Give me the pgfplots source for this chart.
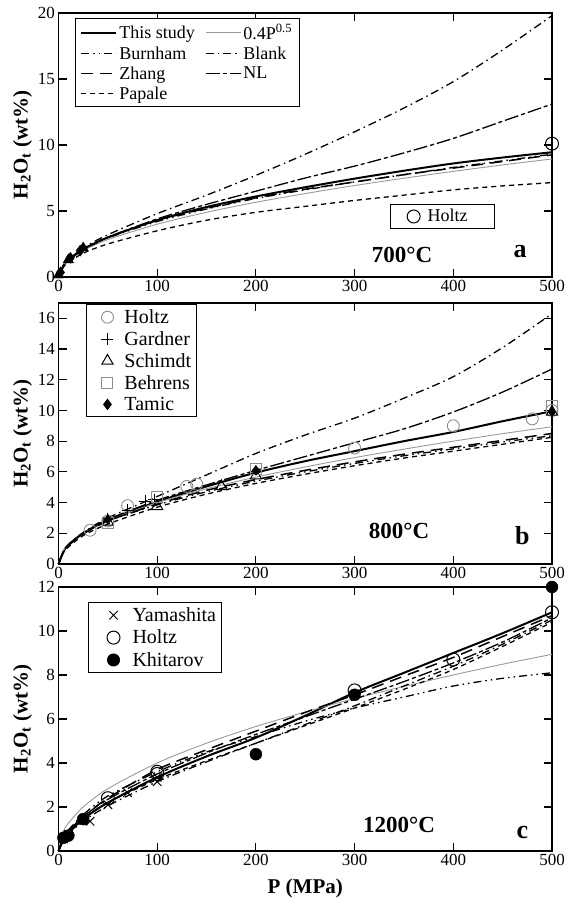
\documentclass[border=0pt]{standalone}
\usepackage{fontspec}
\setmainfont{Liberation Serif}
\usepackage{pgfplots}
\usepackage{pgfplotstable}
\pgfplotsset{compat=1.18}

\pgfplotstableread{
P    this  sq    burn  blank zhang nl    pap
0    0     0     0     0     0     0     0
5    0.85  0.89  0.85  0.9   0.85  0.85  0.75
10   1.3   1.26  1.25  1.3   1.25  1.3   1.1
25   2.1   2.0   2.05  2.2   2.1   2.1   1.8
50   3.0   2.83  2.95  3.2   3.0   3.0   2.5
100  4.3   4.0   4.2   4.8   4.3   4.4   3.5
150  5.3   4.9   5.15  6.2   5.2   5.5   4.3
200  6.1   5.66  5.95  7.7   6.0   6.5   4.9
250  6.8   6.32  6.6   9.3   6.65  7.5   5.35
300  7.45  6.93  7.2   11.0  7.2   8.4   5.8
350  8.05  7.48  7.75  12.8  7.75  9.4   6.2
400  8.6   8.0   8.3   14.8  8.25  10.5  6.6
450  9.05  8.49  8.8   17.2  8.75  11.8  6.9
500  9.45  8.94  9.3   19.8  9.25  13.1  7.15
}\tabA

\pgfplotstableread{
P    this  sq    burn  blank zhang nl    pap
0    0     0     0     0     0     0     0
5    0.8   0.89  0.8   0.8   0.8   0.8   0.75
10   1.25  1.26  1.2   1.25  1.2   1.25  1.1
25   2.0   2.0   1.95  2.05  1.95  2.0   1.85
50   2.85  2.83  2.8   3.0   2.8   2.9   2.6
100  4.05  4.0   3.85  4.4   3.9   4.15  3.7
150  5.05  4.9   4.7   5.8   4.8   5.15  4.55
200  5.95  5.66  5.4   7.2   5.5   6.1   5.25
250  6.7   6.32  6.0   8.4   6.1   7.0   5.85
300  7.35  6.93  6.55  9.5   6.65  7.9   6.4
350  8.0   7.48  7.05  10.8  7.15  8.8   6.9
400  8.6   8.0   7.5   12.2  7.6   9.9   7.35
450  9.3   8.49  7.95  14.1  8.05  11.2  7.8
500  9.95  8.94  8.35  16.3  8.5   12.7  8.25
}\tabB

\pgfplotstableread{
P    this  sq    burn  blank zhang nl    pap
0    0     0     0     0     0     0     0
5    0.5   0.89  0.65  0.5   0.6   0.6   0.55
10   0.8   1.26  0.95  0.75  0.9   0.9   0.8
25   1.45  2.0   1.65  1.35  1.55  1.55  1.45
50   2.2   2.83  2.5   2.05  2.4   2.35  2.2
100  3.35  4.0   3.6   3.15  3.7   3.5   3.25
150  4.3   4.9   4.5   4.05  4.6   4.45  4.1
200  5.15  5.66  5.2   4.9   5.45  5.3   4.9
250  6.15  6.32  5.9   5.75  6.3   6.1   5.7
300  7.2   6.93  6.5   6.6   7.1   6.9   6.5
350  8.1   7.48  7.0   7.5   7.95  7.7   7.35
400  9.0   8.0   7.5   8.4   8.8   8.55  8.25
450  9.9   8.49  7.85  9.4   9.75  9.5   9.3
500  10.85 8.94  8.1   10.5  10.7  10.6  10.4
}\tabC

\newcommand{\lfont}{\fontsize{18}{20}\selectfont}
\newcommand{\mfont}{\fontsize{20}{22}\selectfont}

\pgfplotsset{
  panel/.style={
    scale only axis, width=493.5pt, xmin=0, xmax=500,
    xtick={0,100,200,300,400,500},
    tick align=inside, major tick length=8pt,
    axis line style={line width=1.1pt},
    every tick/.append style={line width=1.1pt, black},
    tick label style={font=\fontsize{17}{19}\selectfont},
    /pgf/number format/assume math mode=true,
    clip=false, anchor=south west,
    ylabel={\textbf{H\textsubscript{2}O\textsubscript{t} (wt\%)}},
    ylabel style={font=\fontsize{21}{24}\selectfont, at={(axis description cs:-0.073,0.5)}, anchor=center},
    legend cell align=left,
  },
  cthis/.style={black, line width=2pt, smooth},
  csq/.style={black!40, line width=0.9pt, smooth},
  cburn/.style={black, line width=1.3pt, smooth, dash pattern=on 8pt off 4pt on 1.5pt off 4pt on 1.5pt off 4pt},
  cblank/.style={black, line width=1.3pt, smooth, dash pattern=on 8pt off 4pt on 1.5pt off 4pt},
  czhang/.style={black, line width=1.5pt, smooth, dash pattern=on 12pt off 7pt},
  cnl/.style={black, line width=1.3pt, smooth, dash pattern=on 14pt off 3pt on 4pt off 3pt},
  cpap/.style={black, line width=1.3pt, smooth, dash pattern=on 5pt off 4pt},
  mkimgb/.style={legend image code/.code={\path[draw=none,fill=none] (-18pt,0pt) -- (15pt,0pt); \draw[##1] plot coordinates {(0pt,0pt)};}},
  mkimgc/.style={legend image code/.code={\path[draw=none,fill=none] (-22pt,0pt) -- (17pt,0pt); \draw[##1] plot coordinates {(0pt,0pt)};}},
  mkimga/.style={legend image code/.code={\path[draw=none,fill=none] (-20pt,0pt) -- (12pt,0pt); \draw[##1] plot coordinates {(0pt,0pt)};}},
}

\begin{document}
\begin{tikzpicture}
\path[use as bounding box] (0,0) rectangle (568pt,909pt);

% ---------------- Panel a ----------------
\begin{axis}[panel, height=264pt, at={(58.5pt,632pt)},
  ymin=0, ymax=20, ytick={0,5,10,15,20},
  legend columns=2,
  legend image code/.code={\draw[#1] (0pt,0pt) -- (35pt,0pt);},
  legend style={at={(0.0334,0.981)}, anchor=north west, draw=black, line width=1pt,
    font=\lfont, row sep=2pt, inner xsep=5pt, inner ysep=4pt,
    /tikz/every even column/.append style={column sep=8pt}},
]
\addplot[cthis] table[x=P,y=this] {\tabA}; \addlegendentry{This study}
\addplot[csq] table[x=P,y=sq] {\tabA}; \addlegendentry{0.4P\textsuperscript{0.5}}
\addplot[cburn] table[x=P,y=burn] {\tabA}; \addlegendentry{Burnham}
\addplot[cblank] table[x=P,y=blank] {\tabA}; \addlegendentry{Blank}
\addplot[czhang] table[x=P,y=zhang] {\tabA}; \addlegendentry{Zhang}
\addplot[cnl] table[x=P,y=nl] {\tabA}; \addlegendentry{NL}
\addplot[cpap] table[x=P,y=pap] {\tabA}; \addlegendentry{Papale}
\addplot[only marks, mark=triangle*, mark size=6pt, black, forget plot] coordinates {(0,0.15) (10,1.3) (25,2.2)};
\addplot[only marks, mark=diamond*, mark size=5.5pt, black, forget plot] coordinates {(2,0.35) (12,1.45) (22,2.0)};
\node[font=\bfseries\fontsize{23}{26}\selectfont, anchor=base] at (axis cs:348,1.06) {700°C};
\node[font=\bfseries\fontsize{26}{28}\selectfont, anchor=base] at (axis cs:467.6,1.44) {a};
\end{axis}
\begin{axis}[panel, height=264pt, at={(58.5pt,632pt)}, ymin=0, ymax=20, hide axis, mkimga,
  legend style={at={(0.672,0.2765)}, anchor=north west, draw=black, line width=1pt, font=\lfont,
    inner xsep=3pt, inner ysep=3pt}]
\addplot[only marks, mark=o, mark size=6.5pt, black, mark options={line width=1pt}] coordinates {(500,10.1)};
\addlegendentry{\hbox{Holtz\kern22pt}}
\end{axis}

% ---------------- Panel b ----------------
\begin{axis}[panel, height=261pt, at={(58.5pt,345pt)},
  ymin=0, ymax=17, ytick={0,2,4,6,8,10,12,14,16}, mkimgb,
  legend style={at={(0.0557,0.996)}, anchor=north west, draw=black, line width=1pt, font=\mfont,
    row sep=2.5pt, inner xsep=3pt, inner ysep=3pt},
]
\addplot[cthis, forget plot] table[x=P,y=this] {\tabB};
\addplot[csq, forget plot] table[x=P,y=sq] {\tabB};
\addplot[cburn, forget plot] table[x=P,y=burn] {\tabB};
\addplot[cblank, forget plot] table[x=P,y=blank] {\tabB};
\addplot[czhang, forget plot] table[x=P,y=zhang] {\tabB};
\addplot[cnl, forget plot] table[x=P,y=nl] {\tabB};
\addplot[cpap, forget plot] table[x=P,y=pap] {\tabB};
\addplot[only marks, mark=o, mark size=6pt, black!45, mark options={line width=0.9pt}]
  coordinates {(32,2.2) (50,2.8) (70,3.8) (130,5.05) (140,5.2) (300,7.55) (400,9.0) (480,9.45) (500,10.0)};
\addlegendentry{Holtz}
\addplot[only marks, mark=+, mark size=6pt, black, mark options={line width=1pt}]
  coordinates {(50,2.95) (70,3.5) (88,4.1) (97,4.2)};
\addlegendentry{Gardner}
\addplot[only marks, mark=triangle, mark size=6.5pt, black, mark options={line width=1pt}]
  coordinates {(50,2.75) (100,3.75) (165,5.05) (200,5.75) (500,9.9)};
\addlegendentry{Schimdt}
\addplot[only marks, mark=square, mark size=5.5pt, black!45, mark options={line width=1pt}]
  coordinates {(50,2.65) (100,4.35) (200,6.2) (500,10.3)};
\addlegendentry{Behrens}
\addplot[only marks, mark=diamond*, mark size=5pt, black]
  coordinates {(50,2.9) (200,6.1) (500,9.9)};
\addlegendentry{Tamic}
\node[font=\bfseries\fontsize{23}{26}\selectfont, anchor=base] at (axis cs:345,1.69) {800°C};
\node[font=\bfseries\fontsize{26}{28}\selectfont, anchor=base] at (axis cs:470,1.24) {b};
\end{axis}

% ---------------- Panel c ----------------
\begin{axis}[panel, height=264pt, at={(58.5pt,58pt)},
  ymin=0, ymax=12, ytick={0,2,4,6,8,10,12}, mkimgc,
  xlabel={\textbf{P (MPa)}},
  xlabel style={font=\fontsize{21}{24}\selectfont, at={(axis description cs:0.5,-0.14)}, anchor=center},
  legend style={at={(0.0598,0.943)}, anchor=north west, draw=black, line width=1pt, font=\mfont,
    row sep=3pt, inner xsep=3pt, inner ysep=3pt},
]
\addplot[cthis, forget plot] table[x=P,y=this] {\tabC};
\addplot[csq, forget plot] table[x=P,y=sq] {\tabC};
\addplot[cburn, forget plot] table[x=P,y=burn] {\tabC};
\addplot[cblank, forget plot] table[x=P,y=blank] {\tabC};
\addplot[czhang, forget plot] table[x=P,y=zhang] {\tabC};
\addplot[cnl, forget plot] table[x=P,y=nl] {\tabC};
\addplot[cpap, forget plot] table[x=P,y=pap] {\tabC};
\addplot[only marks, mark=x, mark size=6pt, black, mark options={line width=1pt}]
  coordinates {(5,0.55) (10,0.75) (25,1.4) (32,1.35) (50,2.1) (70,2.65) (100,3.15) (100,3.35)};
\addlegendentry{Yamashita}
\addplot[only marks, mark=o, mark size=6.5pt, black, mark options={line width=1pt}]
  coordinates {(50,2.4) (100,3.5) (100,3.6) (300,7.3) (400,8.7) (500,10.85)};
\addlegendentry{Holtz}
\addplot[only marks, mark=*, mark size=6pt, black]
  coordinates {(5,0.6) (10,0.7) (25,1.45) (200,4.4) (300,7.1) (500,12.0)};
\addlegendentry{Khitarov}
\node[font=\bfseries\fontsize{23}{26}\selectfont, anchor=base] at (axis cs:345,0.86) {1200°C};
\node[font=\bfseries\fontsize{26}{28}\selectfont, anchor=base] at (axis cs:470,0.59) {c};
\end{axis}
\end{tikzpicture}
\end{document}
